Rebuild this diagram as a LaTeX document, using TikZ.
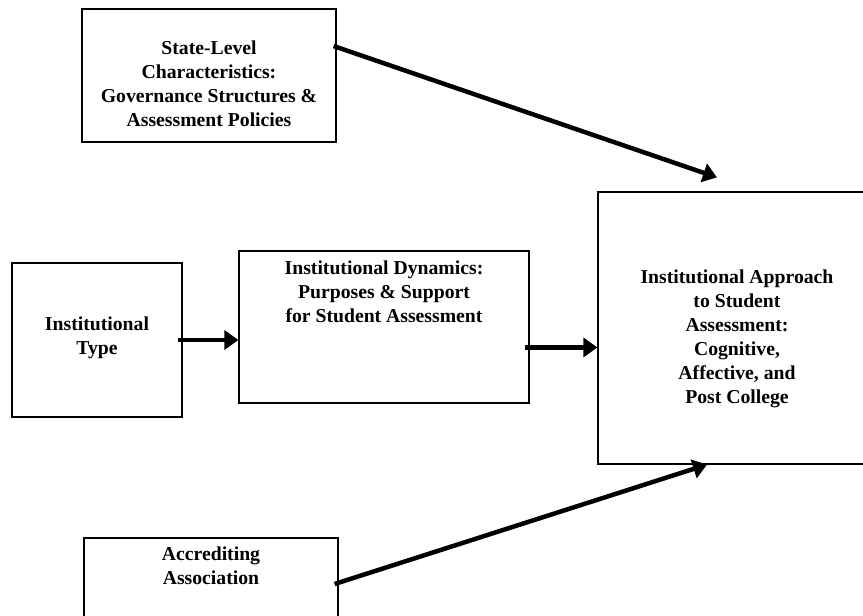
\documentclass[tikz,border=0pt]{standalone}
\usepackage{fontspec}
\setmainfont{Liberation Serif}
\usetikzlibrary{arrows.meta, positioning, calc}

\begin{document}
\begin{tikzpicture}[x=1pt, y=-1pt, >={Triangle[length=14pt, width=19pt]},
  box/.style={draw, line width=1.2pt, inner sep=0pt},
  txt/.style={align=center, font=\fontsize{19.7}{24}\selectfont\bfseries},
  link/.style={->, line width=4.5pt}]

\useasboundingbox (0,0) rectangle (863,616);

\node[box, minimum width=254pt, minimum height=133pt] (state) at (209,75.5) {};
\node[box, minimum width=170pt, minimum height=154pt] (type) at (97,340) {};
\node[box, minimum width=290pt, minimum height=152pt] (dyn) at (384,327) {};
\node[box, minimum width=278pt, minimum height=272pt] (appr) at (737,328) {};
\node[box, minimum width=254pt, minimum height=92pt] (accred) at (211,584) {};

\node[txt] (state-txt) at ([yshift=-8.5pt]state.center) {State-Level\\ Characteristics:\\ Governance Structures \&\\ Assessment Policies};
\node[txt] (type-txt) at ([yshift=2pt]type.center) {Institutional\\ Type};
\node[txt] (dyn-txt) at ([yshift=35pt]dyn.center) {Institutional Dynamics:\\ Purposes \& Support\\ for Student Assessment};
\node[txt] (appr-txt) at ([yshift=-10.5pt]appr.center) {Institutional Approach\\ to Student\\ Assessment:\\ Cognitive,\\ Affective, and\\ Post College};
\node[txt] (accred-txt) at ([yshift=18pt]accred.center) {Accrediting\\ Association};

\draw[link] ([xshift=-3pt]state.13) -- ([xshift=-20pt, yshift=14pt]appr.north);
\draw[link] ([xshift=-5pt]type.east) -- (type.east -| dyn.west);
\draw[link] ([xshift=-5pt]dyn.-8) -- (dyn.-8 -| appr.west);
\draw[link] ([xshift=-4pt]accred.east) -- ([xshift=-30pt]appr.south);

\end{tikzpicture}
\end{document}
